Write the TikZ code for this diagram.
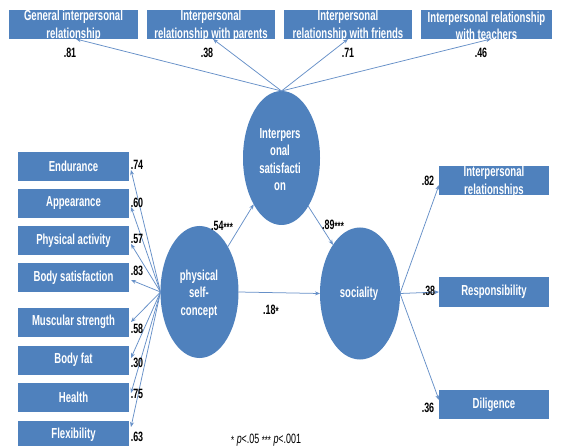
\documentclass[tikz,border=0pt]{standalone}
\usepackage{fontspec}
\newfontfamily\diafont{Liberation Sans}[FakeStretch=0.66]
\newcommand\wfont{\diafont\bfseries\fontsize{14.5}{17.5}\selectfont}
\newcommand\nfont{\diafont\bfseries\fontsize{13.5}{14}\selectfont}
\newcommand\sfnt{\diafont\fontsize{13.5}{14}\selectfont}
\newcommand\stars[1]{\raisebox{-1pt}{\diafont\fontsize{12}{12}\selectfont #1}}
\usetikzlibrary{arrows.meta,shapes.geometric}
\definecolor{boxblue}{HTML}{4F81BD}
\definecolor{lineblue}{HTML}{6690C8}
\begin{document}
\begin{tikzpicture}[x=1pt,y=-1pt,
  box/.style={fill=boxblue, minimum width=#1, minimum height=29pt, inner sep=0pt, outer sep=0pt},
  wt/.style={text=white, font=\wfont, inner sep=0pt, align=center},
  num/.style={text=black, font=\nfont, inner sep=0pt},
  blob/.style={ellipse, fill=boxblue, inner sep=0pt, outer sep=0pt},
  conn/.style={draw=lineblue, line width=0.75pt, -{Stealth[length=5pt,width=4pt]}},
  ]
\useasboundingbox (0,0) rectangle (562,446);
\fill[white] (0,0) rectangle (562,446);

% top boxes
\node[box=129pt] (gen) at (73.5,24.5) {};
\node[box=128pt] (par) at (211,24.5) {};
\node[box=128pt] (fri) at (348,24.5) {};
\node[box=131pt] (tea) at (486.5,24.5) {};
\begin{scope}\clip (gen.north west) rectangle (gen.south east);
\node[wt] (gent) at (73.5,26) {General interpersonal\\relationship};\end{scope}
\begin{scope}\clip (par.north west) rectangle (par.south east);
\node[wt] (part) at (211,26) {Interpersonal\\relationship with parents};\end{scope}
\begin{scope}\clip (fri.north west) rectangle (fri.south east);
\node[wt] (frit) at (348,26) {Interpersonal\\relationship with friends};\end{scope}
\begin{scope}\clip (tea.north west) rectangle (tea.south east);
\node[wt] (teat) at (486.5,26) {Interpersonal relationship\\with teachers};\end{scope}

% left boxes
\node[box=111pt] (endu) at (73.5,166.5) {}; \node[wt] (endut) at (endu) {Endurance};
\node[box=111pt] (appe) at (73.5,203.5) {}; \node[wt] (appet) at (appe) {Appearance};
\node[box=111pt] (phac) at (73.5,241) {}; \node[wt] (phact) at (phac) {Physical activity};
\node[box=111pt] (bosa) at (73.5,277.5) {}; \node[wt] (bosat) at (bosa) {Body satisfaction};
\node[box=111pt] (must) at (73.5,322) {}; \node[wt] (mustt) at (must) {Muscular strength};
\node[box=111pt] (bfat) at (73.5,360) {}; \node[wt] (bfatt) at (bfat) {Body fat};
\node[box=111pt] (heal) at (73.5,397) {}; \node[wt] (healt) at (heal) {Health};
\node[box=111pt] (flex) at (73.5,435) {}; \node[wt] (flext) at (flex) {Flexibility};

% right boxes
\node[box=110pt] (irel) at (494,181) {};
\begin{scope}\clip (irel.north west) rectangle (irel.south east);
\node[wt] (irelt) at (494,182) {Interpersonal\\relationships};\end{scope}
\node[box=110pt] (resp) at (494,292) {}; \node[wt] (respt) at (resp) {Responsibility};
\node[box=110pt] (dili) at (494,404.5) {}; \node[wt] (dilit) at (dili) {Diligence};

% ellipses
\node[blob, minimum width=77pt, minimum height=134pt] (isat) at (281.5,158) {};
\node[wt] (isatt) at (280,159.5) {Interpers\\onal\\satisfacti\\on};
\node[blob, minimum width=78pt, minimum height=132pt] (phys) at (199.5,292) {};
\node[wt] (physt) at (199,294) {physical\\self-\\concept};
\node[blob, minimum width=80pt, minimum height=132pt] (soc) at (360,293.5) {};
\node[wt] (soct) at (359,294) {sociality};

% connectors top
\draw[conn] (isat.north) -- ([xshift=2.5pt]gen.south);
\draw[conn] (isat.north) -- ([xshift=2pt]par.south);
\draw[conn] (isat.north) -- (fri.south);
\draw[conn] (isat.north) -- ([xshift=4.5pt]tea.south);

% connectors left
\draw[conn] (phys.west) -- ([xshift=2pt,yshift=-3.5pt]endu.east);
\draw[conn] (phys.west) -- ([xshift=2pt,yshift=-3.5pt]appe.east);
\draw[conn] (phys.west) -- ([xshift=2pt,yshift=-3pt]phac.east);
\draw[conn] (phys.west) -- ([xshift=2pt,yshift=-2.5pt]bosa.east);
\draw[conn] (phys.west) -- ([xshift=2pt]must.east);
\draw[conn] (phys.west) -- ([xshift=2pt,yshift=2pt]bfat.east);
\draw[conn] (phys.west) -- ([xshift=2pt,yshift=4pt]heal.east);
\draw[conn] (phys.west) -- ([xshift=2pt,yshift=8pt]flex.east);

% connectors right
\draw[conn] (soc.east) -- ([yshift=-4pt]irel.west);
\draw[conn] (soc.east) -- (resp.west);
\draw[conn] (soc.east) -- ([yshift=4.5pt]dili.west);

% structural paths
\draw[conn] (phys.58) -- (isat.239);
\draw[conn] (isat.299) -- (soc.119);
\draw[conn] (phys.east) -- (soc.west);

% labels
\node[num] (n81) at (70,53) {.81};
\node[num] (n38a) at (207,53) {.38};
\node[num] (n71) at (348,53) {.71};
\node[num] (n46) at (481,53) {.46};
\node[num] (n74) at (137,165) {.74};
\node[num] (n60) at (137,203) {.60};
\node[num] (n57) at (137,239) {.57};
\node[num] (n83) at (137,271) {.83};
\node[num] (n58) at (137,329) {.58};
\node[num] (n30) at (137,363) {.30};
\node[num] (n75) at (137,394) {.75};
\node[num] (n63) at (137,437) {.63};
\node[num] (n82) at (428,181) {.82};
\node[num] (n38b) at (429,291) {.38};
\node[num] (n36) at (428,408) {.36};
\node[num, anchor=west] (n54) at (211,226) {.54\stars{***}};
\node[num, anchor=west] (n89) at (322,225) {.89\stars{***}};
\node[num, anchor=west] (n18) at (263,310) {.18\stars{*}};

% footnote
\node[inner sep=0pt, anchor=west, font=\sfnt] (foot) at (231,440) {\stars{*} \textit{p}<.05 \stars{***} \textit{p}<.001};
\end{tikzpicture}
\end{document}
